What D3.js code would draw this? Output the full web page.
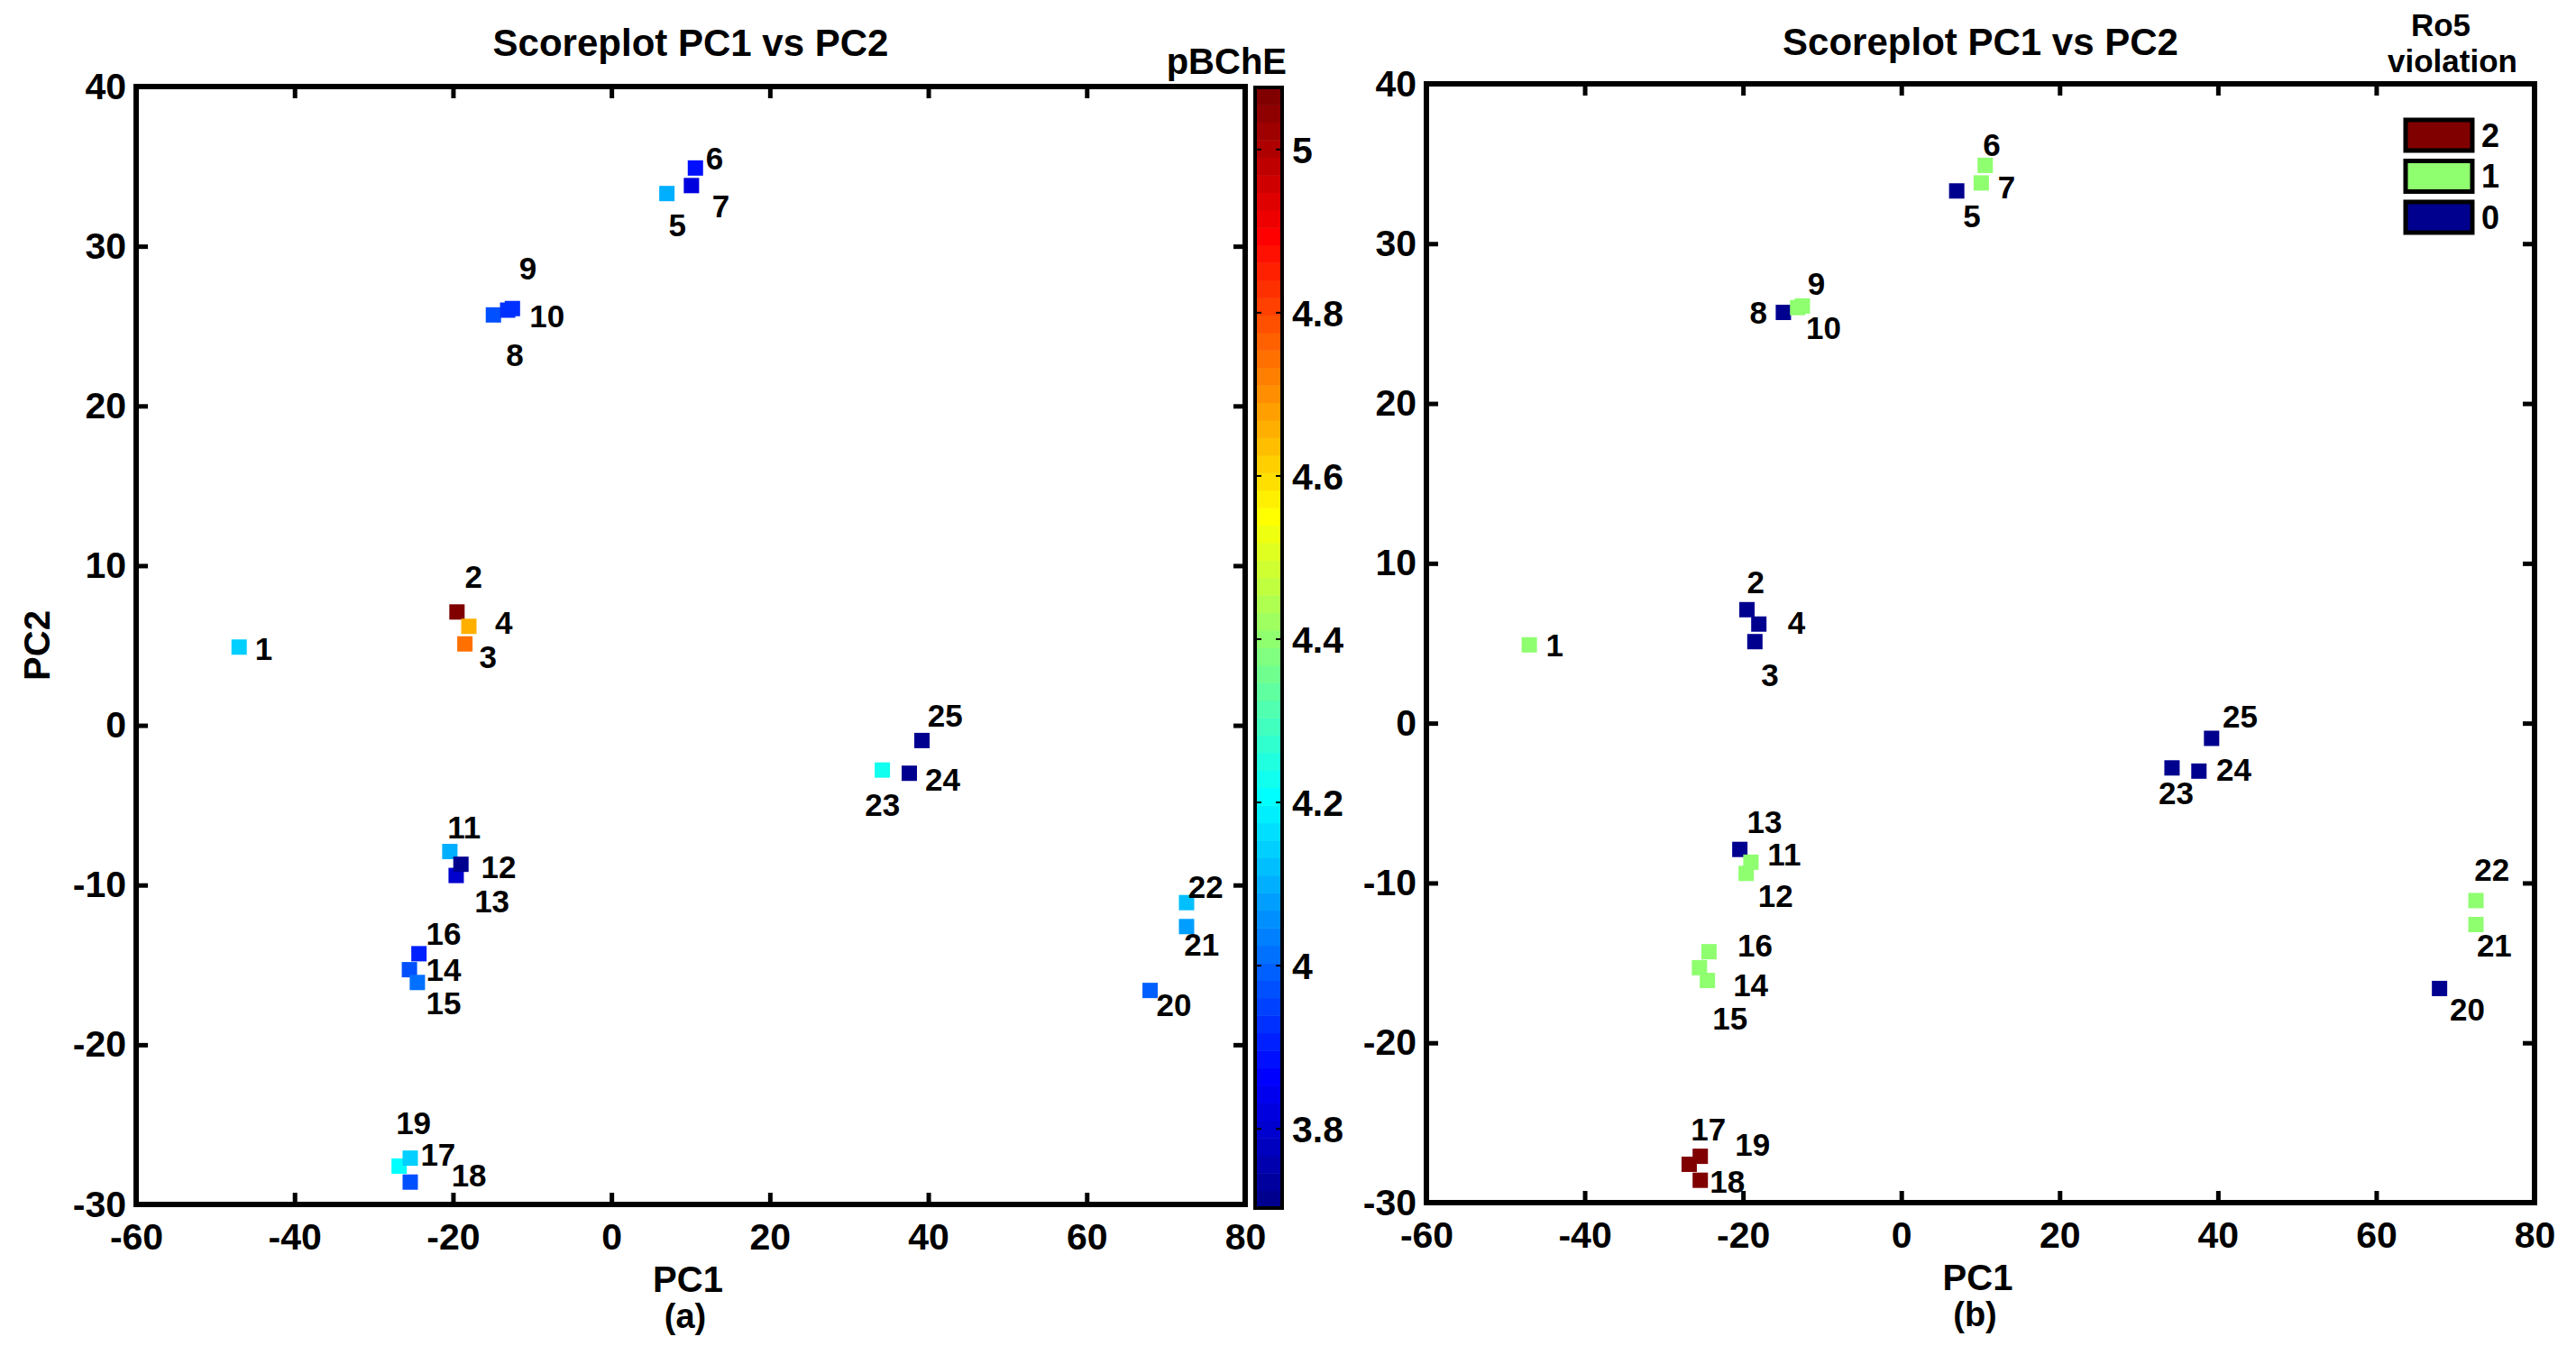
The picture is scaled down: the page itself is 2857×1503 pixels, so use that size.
<!DOCTYPE html>
<html>
<head>
<meta charset="utf-8">
<script src="https://cdn.jsdelivr.net/npm/d3@7"></script>
<style>
  body { margin: 0; background: #fff; }
  svg text { font-family: "Liberation Sans", Arial, sans-serif; font-weight: bold; fill: #000; }
</style>
</head>
<body>
<svg id="chart" width="2857" height="1503"></svg>
<script>
// scores, listed in drawing order (label text of panel a / panel b)
const labelA = ["1","2","3","4","5","6","7","8","9","10","11","13","12","14","15","16","19","17","18","20","21","22","23","24","25"]
const labelB = ["1","2","3","4","5","6","7","8","9","10","13","12","11","14","15","16","19","17","18","20","21","22","23","24","25"]
const pc1 = [-47.0,-19.5,-18.5,-18.0, 7.0,10.6,10.1,-14.9,-13.1,-12.5,-20.4,-19.6,-19.0,-25.5,-24.5,-24.3,-26.8,-25.4,-25.4,68.0,72.6,72.6,34.2,37.6,39.2]
const pc2 = [  4.9,  7.1,  5.1,  6.2,33.3,34.9,33.8, 25.7, 26.0, 26.1, -7.9, -9.4, -8.7,-15.3,-16.1,-14.3,-27.6,-27.1,-28.6,-16.6,-12.6,-11.1,-2.8,-3.0,-0.95]
const pBChE = [4.14,5.076,4.735,4.65,4.09,3.89,3.83,3.98,3.92,3.92,4.09,3.80,3.72,3.98,4.02,3.915,4.20,4.14,3.98,4.00,4.07,4.12,4.22,3.703,3.72]
const ro5 = [1,0,0,0,0,1,1,0,1,1,0,1,1,1,1,1,2,2,2,0,1,1,0,0,0]

// label anchors (data units, left edge / vertical middle)
const labelAx = [-45.0,-18.5,-16.7,-14.7, 7.2,11.9,12.7,-13.3,-11.65,-10.35,-20.7,-17.3,-16.45,-23.4,-23.4,-23.4,-27.2,-24.1,-20.2,68.8,72.3,72.8,32.0,39.6,39.9]
const labelAy = [  4.8,  9.3,  4.3,  6.4,31.3,35.5,32.5, 23.2, 28.6, 25.6, -6.4,-11.0, -8.9,-15.3,-17.4,-13.05,-24.9,-26.9,-28.2,-17.5,-13.75,-10.1,-5.0,-3.4,0.6]
const labelBx = [-44.9,-19.5,-17.7,-14.35, 7.8,10.3,12.2,-19.15,-11.85,-12.05,-19.5,-18.1,-16.9,-21.25,-23.86,-20.7,-21.0,-26.6,-24.2,69.3,72.7,72.4,32.5,39.8,40.6]
const labelBy = [  4.9,  8.8,  3.0,  6.3,31.7,36.2,33.5, 25.7, 27.5, 24.7, -6.2,-10.8, -8.2,-16.4,-18.5,-13.9,-26.4,-25.4,-28.7,-17.9,-13.9,-9.2,-4.4,-2.9,0.4]

const xTicks = [-60, -40, -20, 0, 20, 40, 60, 80]
const yTicks = [-30, -20, -10, 0, 10, 20, 30, 40]
const cbTicks = [3.8, 4, 4.2, 4.4, 4.6, 4.8, 5]
const ro5Levels = [2, 1, 0]

const FONT = '"Liberation Sans", Arial, sans-serif'

// matlab jet
function jet(t) {
  const c = v => Math.round(255 * Math.max(0, Math.min(1, v)))
  return `rgb(${c(1.5 - Math.abs(4 * t - 3))},${c(1.5 - Math.abs(4 * t - 2))},${c(1.5 - Math.abs(4 * t - 1))})`
}
const jet64 = d3.range(64).map(k => jet((k + 1) / 64))

const [cMin, cMax] = d3.extent(pBChE)
const pColor = d3.scaleQuantize().domain([cMin, cMax]).range(jet64)
const rColor = d3.scaleQuantize().domain([0, 2]).range(jet64)

const svg = d3.select("#chart")
svg.append("rect").attr("width", 2857).attr("height", 1503).attr("fill", "#fff")

function drawPanel(p) {
  const x = d3.scaleLinear().domain([-60, 80]).range([p.left, p.right])
  const y = d3.scaleLinear().domain([-30, 40]).range([p.bottom, p.top])
  const g = svg.append("g")

  const fixAxis = a => {
    a.attr("font-family", FONT).attr("font-size", 41).attr("font-weight", "bold")
    a.select(".domain").remove()
    a.selectAll(".tick line").attr("stroke", "#000").attr("stroke-width", 5)
  }

  g.append("g").attr("transform", `translate(0,${p.bottom})`)
    .call(d3.axisBottom(x).tickValues(xTicks).tickFormat(d => String(d)).tickSize(-13).tickPadding(21))
    .call(fixAxis)
  g.append("g").attr("transform", `translate(0,${p.top})`)
    .call(d3.axisTop(x).tickValues(xTicks).tickFormat("").tickSize(-13))
    .call(fixAxis)
  g.append("g").attr("transform", `translate(${p.left},0)`)
    .call(d3.axisLeft(y).tickValues(yTicks).tickFormat(d => String(d)).tickSize(-13).tickPadding(11))
    .call(fixAxis)
  g.append("g").attr("transform", `translate(${p.right},0)`)
    .call(d3.axisRight(y).tickValues(yTicks).tickFormat("").tickSize(-13))
    .call(fixAxis)

  g.append("rect")
    .attr("x", p.left).attr("y", p.top)
    .attr("width", p.right - p.left).attr("height", p.bottom - p.top)
    .attr("fill", "none").attr("stroke", "#000").attr("stroke-width", 6)

  // markers
  g.selectAll("rect.pt")
    .data(pc1)
    .enter()
    .append("rect")
    .attr("class", "pt")
    .attr("x", (d, i) => x(pc1[i]) - 8.5)
    .attr("y", (d, i) => y(pc2[i]) - 8.5)
    .attr("width", 17)
    .attr("height", 17)
    .attr("fill", (d, i) => p.color(i))

  g.selectAll("text.lbl")
    .data(p.labels)
    .enter()
    .append("text")
    .attr("class", "lbl")
    .attr("x", (d, i) => x(p.lx[i]))
    .attr("y", (d, i) => y(p.ly[i]))
    .attr("dy", "0.35em")
    .attr("font-size", 35)
    .text(d => d)

  const cx = (p.left + p.right) / 2
  g.append("text").attr("x", cx).attr("y", p.titleY).attr("text-anchor", "middle")
    .attr("font-size", 42).text("Scoreplot PC1 vs PC2")
  g.append("text").attr("x", cx - 3).attr("y", p.bottom + 97).attr("text-anchor", "middle")
    .attr("font-size", 40).text("PC1")
  g.append("text").attr("x", cx - 6).attr("y", p.bottom + 137).attr("text-anchor", "middle")
    .attr("font-size", 38).attr("font-weight", "normal").text(p.tag)
  return { x, y, g }
}

// (a) coloured by pBChE
const pa = drawPanel({
  left: 151, right: 1381, top: 96, bottom: 1336, titleY: 62, tag: "(a)",
  color: i => pColor(pBChE[i]), labels: labelA, lx: labelAx, ly: labelAy
})
pa.g.append("text")
  .attr("transform", "translate(55,716) rotate(-90)")
  .attr("text-anchor", "middle").attr("font-size", 40).text("PC2")

// colorbar
const cbY = d3.scaleLinear().domain([cMin, cMax]).range([1340, 97])
const cbX = 1392, cbW = 30
const step = (cMax - cMin) / 64
svg.selectAll("rect.cb")
  .data(jet64)
  .enter()
  .append("rect")
  .attr("class", "cb")
  .attr("x", cbX)
  .attr("y", (d, k) => cbY(cMin + (k + 1) * step))
  .attr("width", cbW)
  .attr("height", (d, k) => cbY(cMin + k * step) - cbY(cMin + (k + 1) * step) + 0.5)
  .attr("fill", d => d)
svg.append("rect").attr("x", cbX).attr("y", 97).attr("width", cbW).attr("height", 1340 - 97)
  .attr("fill", "none").attr("stroke", "#000").attr("stroke-width", 4)
const cbG = svg.append("g")
cbG.selectAll("line.l").data(cbTicks).enter().append("line")
  .attr("x1", cbX).attr("x2", cbX + 7).attr("y1", d => cbY(d)).attr("y2", d => cbY(d))
  .attr("stroke", "#000").attr("stroke-width", 2)
cbG.selectAll("line.r").data(cbTicks).enter().append("line")
  .attr("x1", cbX + cbW - 7).attr("x2", cbX + cbW).attr("y1", d => cbY(d)).attr("y2", d => cbY(d))
  .attr("stroke", "#000").attr("stroke-width", 2)
cbG.selectAll("text").data(cbTicks).enter().append("text")
  .attr("x", cbX + cbW + 11).attr("y", d => cbY(d)).attr("dy", "0.36em")
  .attr("font-size", 41).text(d => String(d))
svg.append("text").attr("x", 1427).attr("y", 82).attr("text-anchor", "end")
  .attr("font-size", 40).text("pBChE")

// (b) coloured by Ro5 violations
const pb = drawPanel({
  left: 1582, right: 2811, top: 93, bottom: 1334, titleY: 61, tag: "(b)",
  color: i => rColor(ro5[i]), labels: labelB, lx: labelBx, ly: labelBy
})

const legY = d3.scalePoint().domain(ro5Levels).range([150, 241])
const leg = svg.append("g")
leg.selectAll("rect").data(ro5Levels).enter().append("rect")
  .attr("x", 2668).attr("y", d => legY(d) - 17)
  .attr("width", 74).attr("height", 34)
  .attr("fill", d => rColor(d)).attr("stroke", "#000").attr("stroke-width", 5)
leg.selectAll("text").data(ro5Levels).enter().append("text")
  .attr("x", 2752).attr("y", d => legY(d)).attr("dy", "0.36em")
  .attr("font-size", 36).text(d => String(d))

// two-line legend title
svg.append("text").attr("x", 2707).attr("y", 40).attr("text-anchor", "middle")
  .attr("font-size", 35).text("Ro5")
svg.append("text").attr("x", 2720).attr("y", 80).attr("text-anchor", "middle")
  .attr("font-size", 35).text("violation")
</script>
</body>
</html>
